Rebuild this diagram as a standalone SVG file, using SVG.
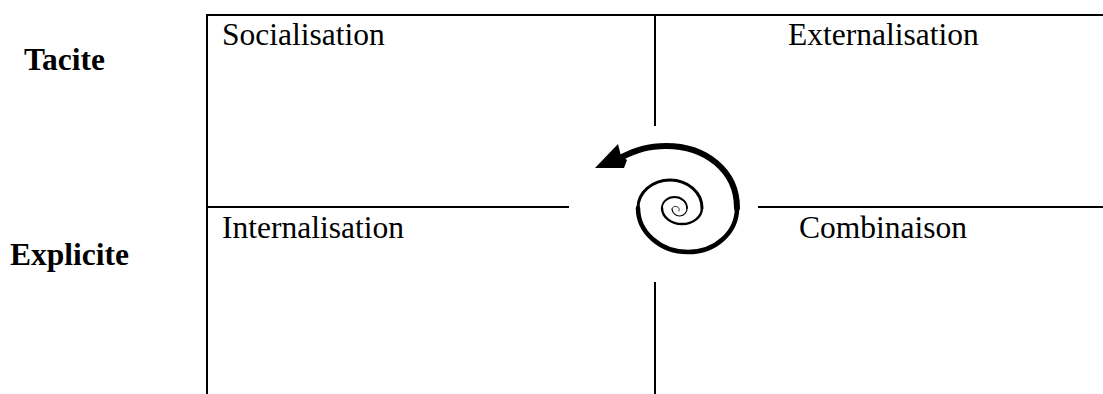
<svg xmlns="http://www.w3.org/2000/svg" width="1103" height="394" viewBox="0 0 1103 394">
<style>
.ln{stroke:#000;stroke-width:2;fill:none}
.lbl{font-family:"Liberation Serif","Times New Roman",serif;font-size:31.5px;fill:#000}
.hd{font-family:"Liberation Serif","Times New Roman",serif;font-size:31.5px;font-weight:bold;fill:#000}
.sp{stroke:#000;fill:none;stroke-linecap:round}
</style>
<rect width="1103" height="394" fill="#fff"/>
<g id="grid">
<line class="ln" x1="206" y1="15" x2="1103" y2="15"/>
<line class="ln" x1="207" y1="14" x2="207" y2="394"/>
<line class="ln" x1="655" y1="15" x2="655" y2="126"/>
<line class="ln" x1="207" y1="207" x2="569" y2="207"/>
<line class="ln" x1="758" y1="207" x2="1103" y2="207"/>
<line class="ln" x1="655" y1="282" x2="655" y2="394"/>
</g>
<g id="row-labels">
<text class="hd" x="24" y="70">Tacite</text>
<text class="hd" x="10" y="265">Explicite</text>
</g>
<g id="socialisation"><text class="lbl" x="222" y="45">Socialisation</text></g>
<g id="externalisation"><text class="lbl" x="788" y="45">Externalisation</text></g>
<g id="internalisation"><text class="lbl" x="222" y="238">Internalisation</text></g>
<g id="combinaison"><text class="lbl" x="799" y="238">Combinaison</text></g>
<g id="spiral">
<path class="sp" stroke-width="0.8" stroke="#444" d="M 679 211 A 3.5 3.5 0 0 0 672 209"/>
<path class="sp" stroke-width="1.2" d="M 672 209 A 7.5 7.5 0 0 0 687 208"/>
<path class="sp" stroke-width="1.8" d="M 687 208 A 12.5 11 0 0 0 662 208"/>
<path class="sp" stroke-width="2.4" d="M 662 208 A 20 16 0 0 0 702 208"/>
<path class="sp" stroke-width="3" d="M 702 208 A 32 28 0 0 0 638 208"/>
<path class="sp" stroke-width="4.5" d="M 638 208 C 638 232 660 252 688 252 C 716 252 737 232 737 208"/>
<path class="sp" stroke-width="6" d="M 737 208 C 737 170 705 146 666 146 C 648 146 636 150 622 157"/>
<polygon points="595,168 618,144 621,156 627,160 624,168" fill="#000"/>
</g>
</svg>
